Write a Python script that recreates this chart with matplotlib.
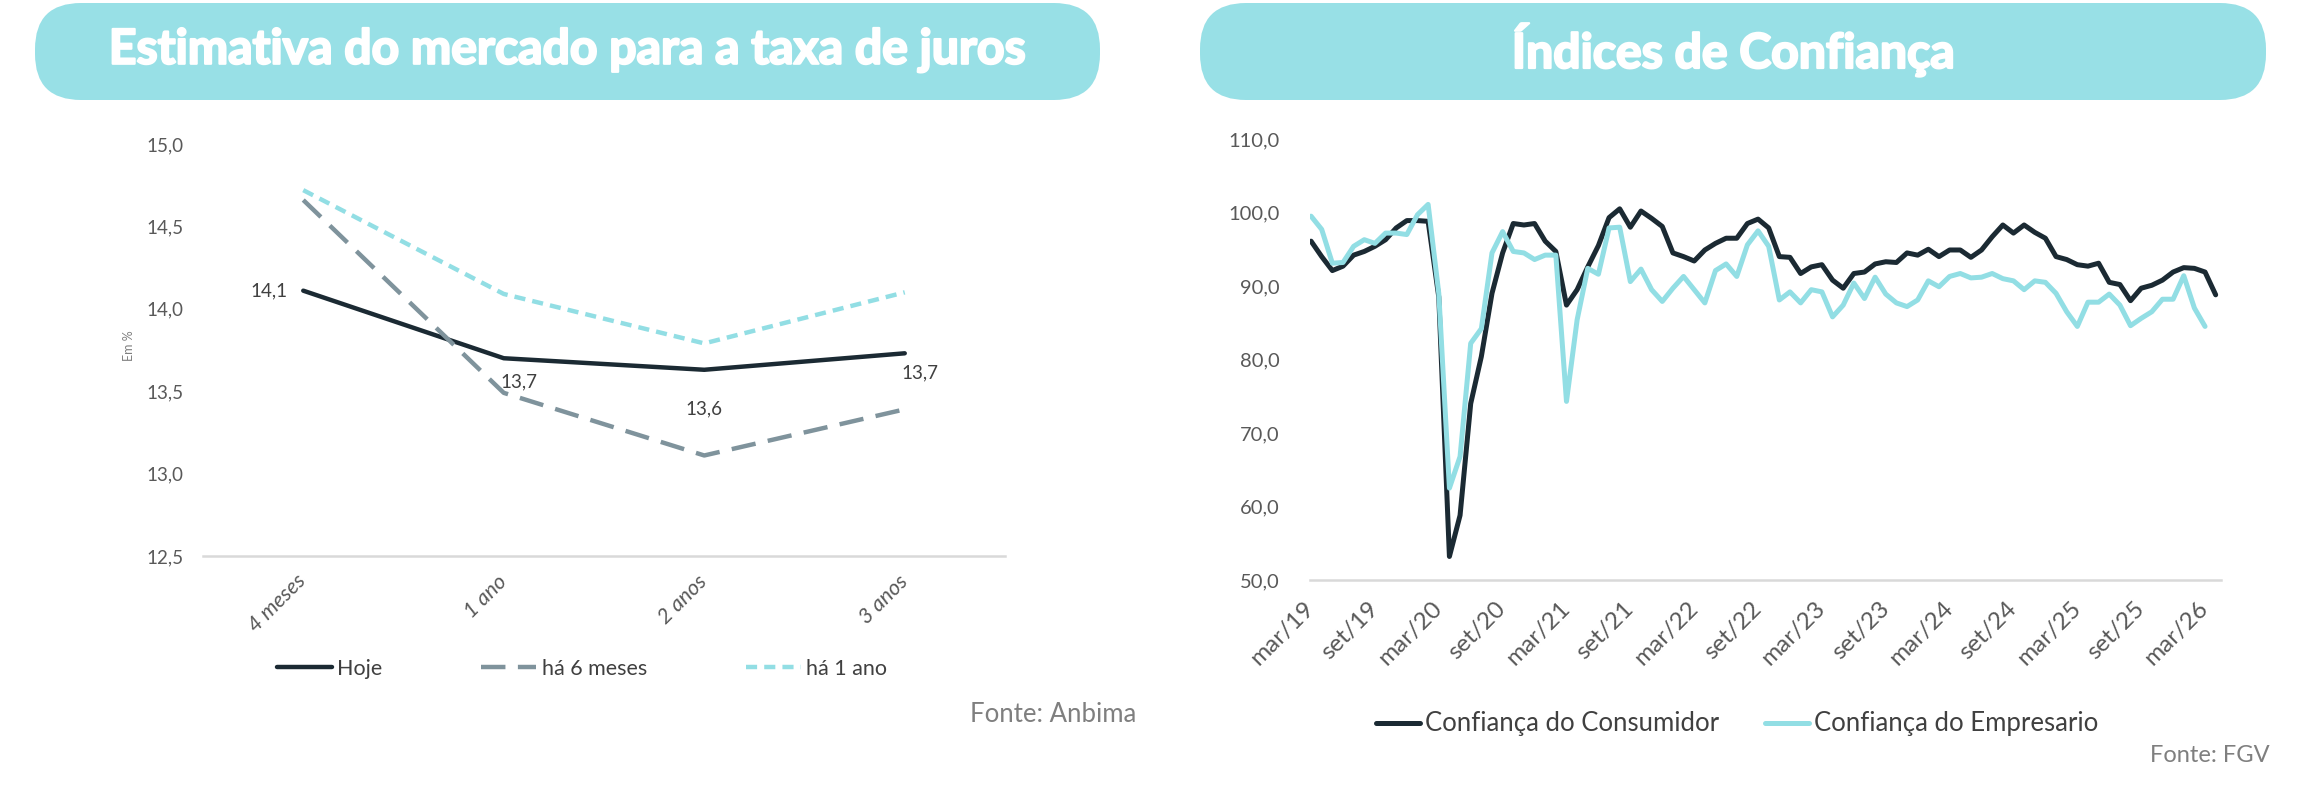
import matplotlib
matplotlib.use("Agg")
import matplotlib.pyplot as plt
import matplotlib.patheffects as pe
from matplotlib.patches import FancyBboxPatch
from matplotlib.ticker import FuncFormatter

plt.rcParams['font.family'] = ['Lato', 'DejaVu Sans']

# --- dados: estimativa do mercado para a taxa de juros (Anbima) ---
prazos = ['4 meses', '1 ano', '2 anos', '3 anos']
hoje = [14.11, 13.70, 13.63, 13.73]
ha_6_meses = [14.66, 13.49, 13.11, 13.39]
ha_1_ano = [14.72, 14.09, 13.79, 14.10]
rotulos_hoje = ['14,1', '13,7', '13,6', '13,7']

# --- dados: indices de confianca (FGV), mensal a partir de mar/19 ---
meses_rotulos = ['mar/19', 'set/19', 'mar/20', 'set/20', 'mar/21', 'set/21', 'mar/22',
                 'set/22', 'mar/23', 'set/23', 'mar/24', 'set/24', 'mar/25', 'set/25', 'mar/26']
consumidor = [96.1, 94.0, 92.1, 92.7, 94.2, 94.7, 95.4, 96.3, 97.9, 98.9, 98.9, 98.8,
              88.5, 53.2, 58.8, 74.0, 80.4, 89.0, 94.5, 98.5, 98.3, 98.5, 96.1, 94.7,
              87.4, 89.5, 92.6, 95.5, 99.3, 100.5, 98.0, 100.2, 99.2, 98.1, 94.5, 94.0,
              93.4, 94.9, 95.8, 96.5, 96.5, 98.5, 99.1, 97.9, 94.0, 93.9, 91.7, 92.6,
              92.9, 90.8, 89.7, 91.7, 91.9, 93.0, 93.3, 93.2, 94.5, 94.2, 95.0, 94.0,
              94.9, 94.9, 93.9, 94.9, 96.7, 98.3, 97.2, 98.3, 97.3, 96.5, 94.0, 93.6,
              92.9, 92.7, 93.1, 90.5, 90.2, 88.0, 89.7, 90.1, 90.8, 91.9, 92.5, 92.4, 91.9, 88.8]
empresario = [99.5, 97.7, 93.1, 93.2, 95.4, 96.3, 95.8, 97.2, 97.2, 97.0, 99.7, 101.1,
              89.0, 62.5, 66.8, 82.2, 84.2, 94.5, 97.4, 94.7, 94.5, 93.6, 94.2, 94.2,
              74.3, 85.4, 92.4, 91.6, 97.9, 98.0, 90.6, 92.3, 89.5, 87.9, 89.7, 91.3,
              89.5, 87.7, 92.1, 93.0, 91.3, 95.6, 97.5, 95.4, 88.1, 89.2, 87.7, 89.5,
              89.2, 85.8, 87.4, 90.4, 88.3, 91.2, 88.9, 87.7, 87.2, 88.1, 90.7, 89.9,
              91.3, 91.7, 91.1, 91.2, 91.7, 91.0, 90.7, 89.5, 90.7, 90.5, 89.0, 86.5,
              84.5, 87.8, 87.8, 88.9, 87.4, 84.6, 85.6, 86.5, 88.2, 88.2, 91.4, 87.0, 84.5]

escuro = '#1B2A33'
cinza = '#7F939C'
ciano = '#92DEE4'
texto = '#595959'

W, H = 2307, 787
fig = plt.figure(figsize=(W / 100, H / 100), dpi=100)

# fundo em pixels para faixas de titulo, legendas e fontes
bg = fig.add_axes([0, 0, 1, 1])
bg.set_xlim(0, W)
bg.set_ylim(H, 0)
bg.axis('off')


def px_axes(x0, y0, x1, y1):
    return fig.add_axes([x0 / W, 1 - y1 / H, (x1 - x0) / W, (y1 - y0) / H])


virgula = FuncFormatter(lambda v, p: f"{v:.1f}".replace('.', ','))

for x0, x1 in [(35, 1100), (1200, 2266)]:
    bg.add_patch(FancyBboxPatch((x0, 3), x1 - x0, 97, boxstyle='round,pad=0,rounding_size=46',
                                fc='#98E0E6', ec='none'))

grosso = [pe.withStroke(linewidth=1.6, foreground='white')]
t1 = bg.text(567, 50, 'Estimativa do mercado para a taxa de juros', ha='center', va='center',
             color='white', fontsize=30, fontweight='bold', path_effects=grosso)
fig.canvas.draw()
tam = 30 * 915 / t1.get_window_extent().width
t1.set_fontsize(tam)
bg.text(1733, 50, 'Índices de Confiança', ha='center', va='center',
        color='white', fontsize=tam, fontweight='bold', path_effects=grosso)

# ---------------- grafico da esquerda ----------------
ax1 = px_axes(203, 144, 1005, 556)
x = list(range(len(prazos)))
ax1.plot(x, hoje, color=escuro, lw=3.2, label='Hoje', solid_capstyle='round')
ax1.plot(x, ha_6_meses, color=cinza, lw=3.2, linestyle=(0, (5.5, 2.8)), label='há 6 meses')
ax1.plot(x, ha_1_ano, color=ciano, lw=3.2, linestyle=(0, (2.5, 1.6)), label='há 1 ano')
ax1.set_xlim(-0.5, len(prazos) - 0.5)
ax1.set_ylim(12.5, 15.0)
ax1.set_yticks([12.5, 13.0, 13.5, 14.0, 14.5, 15.0])
ax1.yaxis.set_major_formatter(virgula)
ax1.set_xticks(x)
ax1.set_xticklabels(prazos, rotation=45, ha='right', va='center', rotation_mode='anchor',
                    fontstyle='italic', fontsize=15.5, color=texto)
ax1.tick_params(axis='y', length=0, pad=14, labelsize=13.5, labelcolor=texto)
ax1.tick_params(axis='x', length=0, pad=16)
for s in ['top', 'right', 'left']:
    ax1.spines[s].set_visible(False)
ax1.spines['bottom'].set_color('#D9D9D9')
ax1.spines['bottom'].set_linewidth(1.8)

desloc = [(-25, 0), (11, -17), (0, -28), (11, -14)]
for xi, yi, rot, d in zip(x, hoje, rotulos_hoje, desloc):
    ax1.annotate(rot, (xi, yi), xytext=d, textcoords='offset points', ha='center', va='center',
                 fontsize=13.5, color='#404040')

bg.text(129, 346, 'Em %', rotation=90, ha='center', va='center', fontsize=9, color='#7F7F7F')
ax1.legend(loc='center', bbox_to_anchor=(582, 669), bbox_transform=bg.transData, ncol=3,
           frameon=False, fontsize=15.5, handlelength=2.55, handletextpad=0.25, columnspacing=4.6,
           labelcolor='#404040')
bg.text(1136, 714, 'Fonte: Anbima', ha='right', va='center', fontsize=18.5, color='#7F7F7F')

# ---------------- grafico da direita ----------------
ax2 = px_axes(1310, 139, 2221, 580)
ax2.plot(range(len(consumidor)), consumidor, color=escuro, lw=3.6, label='Confiança do Consumidor',
         solid_joinstyle='round', solid_capstyle='round')
ax2.plot(range(len(empresario)), empresario, color=ciano, lw=3.6, label='Confiança do Empresario',
         solid_joinstyle='round', solid_capstyle='round')
ax2.set_xlim(-0.1, 85.5)
ax2.set_ylim(50, 110)
ax2.set_yticks(range(50, 111, 10))
ax2.yaxis.set_major_formatter(virgula)
ax2.set_xticks(range(0, 6 * len(meses_rotulos), 6))
ax2.set_xticklabels(meses_rotulos, rotation=45, ha='right', va='center', rotation_mode='anchor',
                    fontsize=17.5, color=texto)
ax2.tick_params(axis='y', length=0, pad=22, labelsize=14.5, labelcolor=texto)
ax2.tick_params(axis='x', length=0, pad=18)
for s in ['top', 'right', 'left']:
    ax2.spines[s].set_visible(False)
ax2.spines['bottom'].set_color('#D9D9D9')
ax2.spines['bottom'].set_linewidth(1.8)

ax2.legend(loc='center', bbox_to_anchor=(1737, 724), bbox_transform=bg.transData, ncol=2,
           frameon=False, fontsize=18.5, handlelength=1.7, handletextpad=0.2, columnspacing=1.8,
           labelcolor='#404040')
bg.text(2270, 756, 'Fonte: FGV', ha='right', va='center', fontsize=17, color='#7F7F7F')

fig.savefig('out.png', dpi=100)
